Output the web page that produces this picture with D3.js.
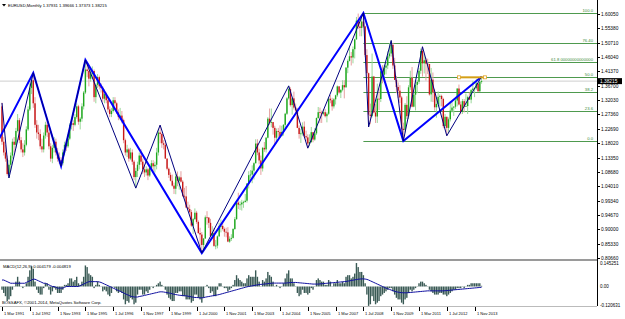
<!DOCTYPE html>
<html><head><meta charset="utf-8">
<script src="https://cdn.jsdelivr.net/npm/d3@7/dist/d3.min.js"></script>
<style>body{margin:0;background:#fff}svg{display:block}text{font-family:"Liberation Sans",Arial,sans-serif}</style>
</head><body><svg id="c" width="625" height="319"></svg>
<script>
// ---------- DATA (monthly EURUSD bars, first bar = Mar 1991) ----------
const firstBar = {year: 1991, month: 3};
const opens = [
1.300,1.185,1.150,1.130,1.080,1.110,1.140,1.185,1.175,1.220,
1.255,1.190,1.160,1.150,1.175,1.225,1.290,1.360,1.385,1.310,1.240,1.215,
1.210,1.170,1.160,1.205,1.240,1.215,1.170,1.130,1.165,1.185,1.150,1.130,
1.125,1.115,1.150,1.175,1.170,1.195,1.240,1.245,1.240,1.265,1.300,1.250,
1.260,1.300,1.345,1.420,1.415,1.390,1.405,1.415,1.330,1.370,1.395,1.365,
1.360,1.325,1.340,1.320,1.290,1.275,1.285,1.320,1.310,1.280,1.265,1.270,
1.255,1.190,1.150,1.160,1.130,1.150,1.120,1.070,1.090,1.110,1.140,1.120,
1.095,1.085,1.095,1.075,1.100,1.115,1.105,1.110,1.150,1.215,1.210,1.180,
1.175,1.130,1.097,1.077,1.058,1.042,1.032,1.072,1.058,1.069,1.055,1.009,
1.007,0.971,0.966,0.956,0.912,0.933,0.954,0.924,0.888,0.883,0.849,0.870,
0.939,0.938,0.921,0.878,0.888,0.846,0.847,0.877,0.911,0.911,0.901,0.892,
0.890,0.860,0.869,0.872,0.901,0.933,0.987,0.980,0.981,0.987,0.989,0.993,
1.049,1.076,1.078,1.091,1.115,1.179,1.150,1.124,1.098,1.165,1.160,1.198,
1.260,1.247,1.249,1.230,1.198,1.220,1.217,1.203,1.217,1.240,1.276,1.326,
1.356,1.304,1.326,1.296,1.287,1.230,1.210,1.212,1.234,1.203,1.199,1.179,
1.184,1.216,1.192,1.212,1.262,1.281,1.279,1.276,1.281,1.268,1.276,1.325,
1.320,1.300,1.323,1.336,1.365,1.345,1.354,1.369,1.362,1.426,1.448,1.463,
1.459,1.486,1.518,1.579,1.560,1.555,1.576,1.560,1.467,1.408,1.273,1.269,
1.397,1.280,1.267,1.325,1.324,1.414,1.403,1.426,1.433,1.463,1.472,1.500,
1.433,1.386,1.363,1.351,1.329,1.227,1.223,1.305,1.268,1.362,1.393,1.299,
1.338,1.370,1.380,1.416,1.480,1.440,1.450,1.439,1.438,1.339,1.387,1.346,
1.297,1.308,1.331,1.334,1.324,1.236,1.266,1.230,1.258,1.286,1.296,1.299,
1.319,1.358,1.306,1.282,1.317,1.299,1.301,1.330,1.322,1.353,1.358,1.359,
1.375,1.349,1.37931];
const highs = [
1.312,1.200,1.175,1.140,1.125,1.150,1.195,1.200,1.230,1.275,
1.262,1.200,1.180,1.190,1.235,1.300,1.375,1.400,1.409,1.330,1.255,1.240,
1.225,1.195,1.215,1.250,1.260,1.225,1.180,1.175,1.200,1.195,1.165,1.150,
1.135,1.160,1.185,1.190,1.205,1.245,1.260,1.255,1.275,1.310,1.305,1.265,
1.310,1.350,1.451,1.445,1.425,1.420,1.430,1.420,1.375,1.405,1.400,1.375,
1.365,1.355,1.345,1.325,1.300,1.295,1.330,1.330,1.315,1.290,1.295,1.285,
1.260,1.195,1.175,1.165,1.165,1.160,1.125,1.100,1.120,1.150,1.160,1.130,
1.110,1.105,1.100,1.110,1.125,1.125,1.120,1.165,1.225,1.239,1.215,1.190,
1.191,1.131,1.101,1.085,1.078,1.052,1.080,1.088,1.074,1.089,1.060,1.035,
1.041,0.990,0.980,0.963,0.937,0.968,0.960,0.929,0.905,0.891,0.871,0.945,
0.959,0.940,0.934,0.910,0.904,0.865,0.880,0.921,0.932,0.925,0.906,0.905,
0.907,0.877,0.884,0.904,0.940,0.992,1.019,0.991,0.996,0.993,1.015,1.050,
1.089,1.093,1.108,1.118,1.193,1.193,1.162,1.140,1.168,1.184,1.200,1.265,
1.293,1.293,1.248,1.237,1.228,1.230,1.238,1.237,1.242,1.279,1.330,1.3667,
1.362,1.329,1.348,1.309,1.295,1.238,1.226,1.248,1.251,1.221,1.209,1.209,
1.233,1.217,1.229,1.264,1.298,1.296,1.286,1.291,1.291,1.281,1.329,1.337,
1.328,1.327,1.338,1.368,1.366,1.355,1.385,1.385,1.428,1.453,1.497,1.477,
1.495,1.520,1.591,1.602,1.582,1.586,1.6038,1.562,1.486,1.410,1.309,1.472,
1.399,1.308,1.374,1.358,1.416,1.434,1.434,1.444,1.479,1.506,1.5144,1.507,
1.458,1.399,1.378,1.369,1.334,1.247,1.311,1.333,1.369,1.416,1.428,1.350,
1.386,1.386,1.425,1.488,1.494,1.470,1.458,1.455,1.429,1.425,1.410,1.355,
1.323,1.349,1.339,1.338,1.328,1.275,1.267,1.264,1.317,1.314,1.301,1.331,
1.359,1.371,1.316,1.324,1.324,1.342,1.335,1.345,1.357,1.383,1.362,1.389,
1.374,1.383,1.39666];
const lows = [
1.175,1.140,1.120,1.075,1.067,1.090,1.130,1.150,1.165,1.215,
1.180,1.150,1.135,1.140,1.170,1.220,1.285,1.340,1.295,1.230,1.195,1.190,
1.160,1.150,1.150,1.195,1.200,1.160,1.120,1.115,1.150,1.140,1.120,1.112,
1.106,1.108,1.140,1.155,1.165,1.190,1.225,1.220,1.235,1.260,1.240,1.225,
1.250,1.290,1.340,1.395,1.365,1.380,1.390,1.315,1.310,1.360,1.355,1.345,
1.315,1.310,1.310,1.280,1.265,1.265,1.280,1.300,1.275,1.255,1.255,1.245,
1.180,1.140,1.135,1.120,1.125,1.110,1.060,1.034,1.070,1.095,1.110,1.080,
1.070,1.075,1.060,1.070,1.090,1.090,1.085,1.095,1.140,1.180,1.165,1.160,
1.130,1.092,1.067,1.056,1.039,1.015,1.014,1.040,1.029,1.052,1.005,1.000,
0.969,0.963,0.952,0.908,0.885,0.931,0.918,0.885,0.845,0.8228,0.828,0.869,
0.915,0.904,0.876,0.875,0.843,0.835,0.838,0.876,0.890,0.896,0.876,0.874,
0.858,0.856,0.862,0.870,0.898,0.931,0.966,0.963,0.961,0.970,0.987,0.987,
1.033,1.065,1.050,1.062,1.114,1.141,1.111,1.077,1.088,1.152,1.150,1.196,
1.240,1.232,1.208,1.176,1.180,1.199,1.197,1.204,1.205,1.229,1.272,1.322,
1.299,1.273,1.290,1.275,1.229,1.195,1.181,1.205,1.199,1.187,1.164,1.170,
1.181,1.183,1.188,1.207,1.260,1.246,1.246,1.271,1.264,1.248,1.272,1.310,
1.286,1.293,1.306,1.331,1.341,1.327,1.349,1.326,1.361,1.408,1.446,1.433,
1.440,1.456,1.517,1.552,1.528,1.528,1.556,1.460,1.388,1.233,1.242,1.264,
1.277,1.246,1.246,1.288,1.314,1.375,1.383,1.404,1.421,1.456,1.462,1.422,
1.386,1.343,1.327,1.311,1.214,1.1876,1.215,1.259,1.259,1.354,1.297,1.297,
1.287,1.343,1.373,1.406,1.397,1.407,1.384,1.405,1.335,1.315,1.314,1.286,
1.263,1.297,1.300,1.300,1.229,1.229,1.2042,1.213,1.251,1.280,1.269,1.292,
1.300,1.303,1.274,1.275,1.280,1.299,1.275,1.321,1.310,1.348,1.330,1.354,
1.348,1.348,1.37373];
const closes = [
1.185,1.150,1.130,1.080,1.110,1.140,1.185,1.175,1.220,1.255,
1.190,1.160,1.150,1.175,1.225,1.290,1.360,1.385,1.310,1.240,1.215,1.210,
1.170,1.160,1.205,1.240,1.215,1.170,1.130,1.165,1.185,1.150,1.130,1.125,
1.115,1.150,1.175,1.170,1.195,1.240,1.245,1.240,1.265,1.300,1.250,1.260,
1.300,1.345,1.420,1.415,1.390,1.405,1.415,1.330,1.370,1.395,1.365,1.360,
1.325,1.340,1.320,1.290,1.275,1.285,1.320,1.310,1.280,1.265,1.270,1.255,
1.190,1.150,1.160,1.130,1.150,1.120,1.070,1.090,1.110,1.140,1.120,1.095,
1.085,1.095,1.075,1.100,1.115,1.105,1.110,1.150,1.215,1.210,1.180,1.175,
1.130,1.097,1.077,1.058,1.042,1.032,1.072,1.058,1.069,1.055,1.009,1.007,
0.971,0.966,0.956,0.912,0.933,0.954,0.924,0.888,0.883,0.849,0.870,0.939,
0.938,0.921,0.878,0.888,0.846,0.847,0.877,0.911,0.911,0.901,0.892,0.890,
0.860,0.869,0.872,0.901,0.933,0.987,0.980,0.981,0.987,0.989,0.993,1.049,
1.076,1.078,1.091,1.115,1.179,1.150,1.124,1.098,1.165,1.160,1.198,1.260,
1.247,1.249,1.230,1.198,1.220,1.217,1.203,1.217,1.240,1.276,1.326,1.356,
1.304,1.326,1.296,1.287,1.230,1.210,1.212,1.234,1.203,1.199,1.179,1.184,
1.216,1.192,1.212,1.262,1.281,1.279,1.276,1.281,1.268,1.276,1.325,1.320,
1.300,1.323,1.336,1.365,1.345,1.354,1.369,1.362,1.426,1.448,1.463,1.459,
1.486,1.518,1.579,1.560,1.555,1.576,1.560,1.467,1.408,1.273,1.269,1.397,
1.280,1.267,1.325,1.324,1.414,1.403,1.426,1.433,1.463,1.472,1.500,1.433,
1.386,1.363,1.351,1.329,1.227,1.223,1.305,1.268,1.362,1.393,1.299,1.338,
1.370,1.380,1.416,1.480,1.440,1.450,1.439,1.438,1.339,1.387,1.346,1.297,
1.308,1.331,1.334,1.324,1.236,1.266,1.230,1.258,1.286,1.296,1.299,1.319,
1.358,1.306,1.282,1.317,1.299,1.301,1.330,1.322,1.353,1.358,1.359,1.375,
1.349,1.380,1.38215];

// MACD panel values (one per bar)
const macdMain = [
-0.02,-0.04,-0.06,-0.09,-0.08,-0.06,-0.02,0.00,0.03,0.06,
0.03,0.00,-0.01,0.00,0.02,0.06,0.10,0.125,0.11,0.03,-0.02,-0.04,
-0.05,-0.05,-0.01,0.02,0.02,-0.02,-0.05,-0.03,-0.01,-0.02,-0.04,-0.04,
-0.04,-0.02,0.01,0.01,0.02,0.05,0.05,0.03,0.04,0.06,0.02,0.01,
0.03,0.06,0.13,0.12,0.08,0.07,0.06,-0.01,0.01,0.03,0.01,0.00,
-0.03,-0.02,-0.03,-0.05,-0.06,-0.04,0.00,-0.01,-0.03,-0.04,-0.03,-0.04,
-0.08,-0.11,-0.09,-0.10,-0.07,-0.08,-0.11,-0.10,-0.05,-0.02,-0.02,-0.05,
-0.05,-0.03,-0.04,-0.02,0.00,-0.01,0.00,0.01,0.02,0.03,0.01,0.00,
-0.02,-0.05,-0.07,-0.08,-0.09,-0.09,-0.04,-0.04,-0.03,-0.03,-0.06,-0.06,
-0.08,-0.08,-0.08,-0.10,-0.09,-0.05,-0.05,-0.07,-0.08,-0.10,-0.07,0.00,
0.01,-0.01,-0.04,-0.03,-0.06,-0.06,-0.02,0.02,0.02,0.00,-0.01,-0.01,
-0.03,-0.02,-0.01,0.01,0.04,0.07,0.05,0.04,0.03,0.02,0.02,0.05,
0.07,0.06,0.06,0.06,0.10,0.06,0.03,0.00,0.04,0.03,0.05,0.09,
0.07,0.06,0.03,0.00,0.01,0.00,-0.01,0.00,0.02,0.05,0.08,0.10,
0.05,0.05,0.02,0.00,-0.04,-0.06,-0.05,-0.02,-0.04,-0.04,-0.05,-0.04,
-0.01,-0.02,0.00,0.04,0.05,0.04,0.03,0.03,0.01,0.01,0.04,0.03,
0.00,0.02,0.02,0.04,0.02,0.02,0.03,0.02,0.06,0.07,0.07,0.05,
0.06,0.08,0.145,0.12,0.09,0.09,0.07,0.02,-0.05,-0.12,-0.11,-0.06,
-0.09,-0.11,-0.10,-0.09,-0.06,-0.05,-0.04,-0.03,-0.02,-0.01,-0.01,-0.03,
-0.05,-0.07,-0.08,-0.08,-0.10,-0.11,-0.08,-0.07,-0.04,-0.02,-0.03,-0.02,
-0.01,0.00,0.02,0.03,0.03,0.02,0.01,0.00,-0.02,-0.03,-0.04,-0.05,
-0.05,-0.05,-0.04,-0.04,-0.05,-0.05,-0.06,-0.05,-0.04,-0.03,-0.02,-0.02,
-0.01,-0.01,-0.01,0.00,-0.01,0.00,0.01,0.01,0.02,0.02,0.02,0.02,
0.02,0.02,0.004179];
const macdSignal = [
0.040,0.040,0.035,0.030,0.025,0.020,0.020,0.020,0.020,0.020,
0.020,0.020,0.020,0.020,0.025,0.030,0.035,0.040,0.045,0.045,0.040,0.035,
0.030,0.025,0.020,0.020,0.015,0.010,0.005,0.000,0.000,-0.005,-0.010,-0.010,
-0.010,-0.010,-0.005,0.000,0.000,0.000,0.000,0.000,0.000,0.000,0.000,0.005,
0.010,0.015,0.020,0.025,0.030,0.030,0.030,0.030,0.030,0.030,0.028,0.025,
0.020,0.015,0.010,0.005,0.000,-0.005,-0.010,-0.015,-0.020,-0.025,-0.030,-0.035,
-0.040,-0.045,-0.050,-0.055,-0.060,-0.062,-0.065,-0.065,-0.065,-0.062,-0.060,-0.058,
-0.055,-0.053,-0.050,-0.048,-0.045,-0.043,-0.040,-0.038,-0.035,-0.033,-0.033,-0.034,
-0.036,-0.038,-0.040,-0.042,-0.045,-0.048,-0.050,-0.052,-0.054,-0.055,-0.056,-0.057,
-0.058,-0.060,-0.062,-0.064,-0.066,-0.068,-0.068,-0.069,-0.070,-0.070,-0.069,-0.066,
-0.064,-0.062,-0.060,-0.058,-0.056,-0.054,-0.052,-0.050,-0.047,-0.044,-0.041,-0.038,
-0.035,-0.032,-0.029,-0.026,-0.023,-0.020,-0.017,-0.014,-0.011,-0.008,-0.005,-0.002,
0.000,0.002,0.004,0.006,0.008,0.010,0.012,0.013,0.014,0.015,0.016,0.018,
0.019,0.020,0.021,0.021,0.021,0.021,0.021,0.021,0.021,0.021,0.022,0.023,
0.024,0.025,0.025,0.025,0.024,0.023,0.022,0.021,0.020,0.019,0.018,0.017,
0.016,0.015,0.015,0.015,0.015,0.016,0.017,0.018,0.019,0.020,0.021,0.022,
0.023,0.024,0.025,0.026,0.027,0.028,0.029,0.030,0.031,0.033,0.035,0.037,
0.039,0.041,0.043,0.045,0.046,0.047,0.047,0.046,0.044,0.040,0.035,0.030,
0.025,0.020,0.015,0.010,0.005,0.000,-0.005,-0.010,-0.014,-0.018,-0.022,-0.026,
-0.030,-0.033,-0.035,-0.037,-0.038,-0.039,-0.039,-0.039,-0.038,-0.037,-0.036,-0.035,
-0.034,-0.033,-0.032,-0.031,-0.030,-0.029,-0.028,-0.027,-0.027,-0.027,-0.027,-0.027,
-0.027,-0.027,-0.027,-0.027,-0.027,-0.026,-0.025,-0.024,-0.023,-0.022,-0.021,-0.020,
-0.019,-0.018,-0.017,-0.016,-0.015,-0.014,-0.013,-0.012,-0.011,-0.010,-0.009,-0.008,
-0.007,-0.006,-0.004819];

// Price axis ticks
const priceTicks = [1.6005,1.5538,1.5071,1.4604,1.4137,1.3670,1.3203,1.2736,1.2269,1.1802,1.1335,1.0868,1.0401,0.9934,0.9467,0.9000,0.8533,0.8066];
const priceTickLabels = ["1.60050","1.55380","1.50710","1.46040","1.41370","1.36700","1.32030","1.27360","1.22690","1.18020","1.13350","1.08680","1.04010","0.99340","0.94670","0.90000","0.85330","0.80660"];
const lastPrice = 1.38215;
// Date axis labels (every 16 bars)
const dateTickLabels = ["1 Mar 1991","1 Jul 1992","1 Nov 1993","1 Mar 1995","1 Jul 1996","1 Nov 1997","1 Mar 1999","1 Jul 2000","1 Nov 2001","1 Mar 2003","1 Jul 2004","1 Nov 2005","1 Mar 2007","1 Jul 2008","1 Nov 2009","1 Mar 2011","1 Jul 2012","1 Nov 2013"];
const dateTickEvery = 16;
// MACD axis
const macdMax = 0.145251, macdMin = -0.120631;
const macdTickLabels = ["0.145251","0.00","-0.120631"];
// Fibonacci
const fibHigh = 1.6038, fibLow = 1.1876, fibStart = "2008-07";
const fibLevels = [100, 76.4, 61.8, 50, 38.2, 23.6, 0];
const fibLabels = ["100.0","76.40","61.8 00000000000000","50.0","38.2","23.6","0.0"];
// ZigZag vertices (month, price)
const zigMajorDates  = ["1990-11","1992-09","1994-01","1995-03","2000-10","2008-07","2010-06","2014-03"];
const zigMajorPrices = [1.169,1.409,1.106,1.451,0.8228,1.6038,1.1876,1.3967];
const zigMinorDates  = ["1991-03","1991-07","1992-09","1994-01","1995-03","1997-08","1998-10","2000-10","2004-12","2005-11","2008-07","2008-10","2009-11","2010-06","2011-05","2012-07","2014-03"];
const zigMinorPrices = [1.311,1.067,1.409,1.106,1.451,1.034,1.239,0.8228,1.3667,1.164,1.6038,1.233,1.5144,1.1876,1.494,1.2042,1.3967];
// horizontal object
const hLineDates = ["2013-02","2014-05"], hLinePrice = 1.3945;
const title = "EURUSD,Monthly  1.37931 1.39666 1.37373 1.38215";
const macdTitle = "MACD(12,26,9) 0.004179 -0.004819";
const copyright = "BOSSAFX, \u00A92001-2014, MetaQuotes Software Corp.";

// ---------- DRAW ----------
const svg = d3.select("#c");
const W = 625, axisX = 597, FS = 4.2;
const mainTop = 0, mainBottom = 260, macdTop = 263, macdBottom = 306;
const n = closes.length;
const barIndex = s => { const [yy,m] = s.split("-").map(Number); return (yy-firstBar.year)*12 + (m-firstBar.month); };
const x = d3.scaleLinear().domain([0, n-1]).range([2, 481.55]);
const y = d3.scaleLinear().domain([0.8001, 1.6461]).range([mainBottom, mainTop]);
const ym = d3.scaleLinear().domain([macdMin, macdMax]).range([macdBottom, macdTop]);

svg.append("rect").attr("width",W).attr("height",319).attr("fill","#fff");
svg.append("clipPath").attr("id","cm").append("rect").attr("x",0).attr("y",mainTop).attr("width",axisX).attr("height",mainBottom-mainTop);
const gMain = svg.append("g").attr("clip-path","url(#cm)");

// bid line
gMain.append("line").attr("x1",0).attr("x2",axisX).attr("y1",y(lastPrice)).attr("y2",y(lastPrice)).attr("stroke","#cfcfcf").attr("stroke-width",1);

// fib lines
const fibX0 = x(barIndex(fibStart));
fibLevels.forEach((lv,k)=>{
  const p = fibLow + (fibHigh-fibLow)*lv/100;
  const yy = Math.round(y(p))+0.5;
  gMain.append("line").attr("x1",fibX0).attr("x2",axisX).attr("y1",yy).attr("y2",yy).attr("stroke","#4e9a4e").attr("stroke-width",1);
  gMain.append("text").attr("x",axisX-4).attr("y",yy-1.2).attr("text-anchor","end").attr("font-size",FS).attr("fill","#3a8a3a").text(fibLabels[k]);
});

// candles
const bars = gMain.append("g");
for (let i=0;i<n;i++){
  const up = closes[i] >= opens[i];
  const cx = x(i);
  bars.append("line").attr("x1",cx).attr("x2",cx).attr("y1",y(highs[i])).attr("y2",y(lows[i]))
    .attr("stroke", up ? "#9ad89a" : "#e6a0a0").attr("stroke-width",1);
  const y0 = y(Math.max(opens[i],closes[i])), y1 = y(Math.min(opens[i],closes[i]));
  bars.append("rect").attr("x",cx-0.7).attr("width",1.4).attr("y",y0).attr("height",Math.max(0.8,y1-y0))
    .attr("fill", up ? "#1fa81f" : "#c81818");
}

// zigzags
const line = d3.line().x(d=>x(d[0])).y(d=>y(d[1]));
gMain.append("path").attr("d", line(zigMajorDates.map((d,k)=>[barIndex(d), zigMajorPrices[k]])))
  .attr("fill","none").attr("stroke","#0000ff").attr("stroke-width",2);
gMain.append("path").attr("d", line(zigMinorDates.map((d,k)=>[barIndex(d), zigMinorPrices[k]])))
  .attr("fill","none").attr("stroke","#000080").attr("stroke-width",1);

// horizontal selected object
const hx0 = x(barIndex(hLineDates[0])), hx1 = x(barIndex(hLineDates[1])), hy = y(hLinePrice);
gMain.append("line").attr("x1",hx0).attr("x2",hx1).attr("y1",hy).attr("y2",hy).attr("stroke","#d4a017").attr("stroke-width",2);
[hx0,hx1].forEach(xx=>gMain.append("rect").attr("x",xx-1.5).attr("y",hy-1.5).attr("width",3).attr("height",3).attr("fill","#fff").attr("stroke","#e0a020").attr("stroke-width",0.8));

// title
svg.append("path").attr("d","M2,4 L6,4 L4,6.5 Z").attr("fill","#000");
svg.append("text").attr("x",8).attr("y",7).attr("font-size",FS).attr("fill","#000").text(title);

// price axis
svg.append("line").attr("x1",axisX+0.5).attr("x2",axisX+0.5).attr("y1",0).attr("y2",macdBottom).attr("stroke","#000");
priceTicks.forEach((p,k)=>{
  const yy = Math.round(y(p))+0.5;
  svg.append("line").attr("x1",axisX).attr("x2",axisX+3).attr("y1",yy).attr("y2",yy).attr("stroke","#000");
  svg.append("text").attr("x",axisX+4).attr("y",yy+1.6).attr("font-size",4.8).attr("fill","#000").text(priceTickLabels[k]);
});
const ly = y(lastPrice);
svg.append("rect").attr("x",axisX+1).attr("y",ly-3).attr("width",24).attr("height",6).attr("fill","#000");
svg.append("text").attr("x",axisX+3).attr("y",ly+1.7).attr("font-size",4.8).attr("fill","#fff").text(lastPrice.toFixed(5));

// panel separator
svg.append("rect").attr("x",0).attr("y",259).attr("width",axisX).attr("height",2).attr("fill","#9a9a9a");

// MACD
const gM = svg.append("g");
for (let i=0;i<n;i++){
  const v = macdMain[i];
  gM.append("rect").attr("x",x(i)-0.7).attr("width",1.4)
    .attr("y", ym(Math.max(0,v))).attr("height", Math.max(0.3, Math.abs(ym(v)-ym(0))))
    .attr("fill","#3a5a55");
}
const sigLine = d3.line().x((d,i)=>x(i)).y(d=>ym(d));
gM.append("path").attr("d", sigLine(macdSignal)).attr("fill","none").attr("stroke","#1010a0").attr("stroke-width",1);
svg.append("text").attr("x",3).attr("y",268).attr("font-size",FS).attr("fill","#000").text(macdTitle);
[[macdMax,macdTickLabels[0],1.5],[0,macdTickLabels[1],1.6],[macdMin,macdTickLabels[2],0.5]].forEach(([v,t,dy])=>{
  const yy = ym(v);
  svg.append("text").attr("x",axisX+3).attr("y",yy+dy).attr("font-size",4.5).attr("fill","#000").text(t);
});
svg.append("line").attr("x1",0).attr("x2",axisX).attr("y1",macdBottom+0.5).attr("y2",macdBottom+0.5).attr("stroke","#bbb");

// copyright
svg.append("text").attr("x",2).attr("y",303.5).attr("font-size",FS).attr("fill","#000").text(copyright);

// date axis
dateTickLabels.forEach((t,k)=>{
  const xx = Math.round(x(k*dateTickEvery))+0.5;
  svg.append("line").attr("x1",xx).attr("x2",xx).attr("y1",macdBottom+1).attr("y2",macdBottom+5).attr("stroke","#000");
  svg.append("text").attr("x",xx+1.5).attr("y",314.5).attr("font-size",4).attr("fill","#000").text(t);
});
</script></body></html>
